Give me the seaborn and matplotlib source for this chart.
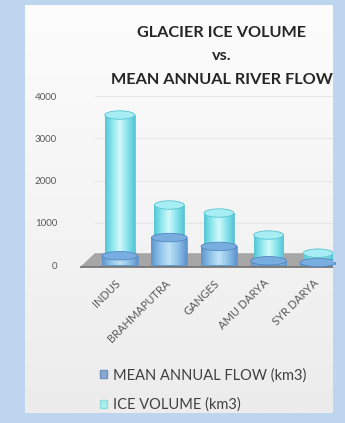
import numpy as np
import pandas as pd
import seaborn as sns
import matplotlib.pyplot as plt
from matplotlib.patches import Ellipse, Polygon, Patch
from matplotlib.colors import LinearSegmentedColormap
from matplotlib.transforms import ScaledTranslation

# Glacier ice volume and mean annual flow per river basin (km3)
rivers = ["INDUS", "BRAHMAPUTRA", "GANGES", "AMU DARYA", "SYR DARYA"]
ice_volume = [3550, 1420, 1230, 710, 280]
annual_flow = [220, 650, 440, 100, 60]
y_ticks = [0, 1000, 2000, 3000, 4000]
title_lines = ["GLACIER ICE VOLUME", "vs.", "MEAN ANNUAL RIVER FLOW"]
legend_labels = ["MEAN ANNUAL FLOW (km3)", "ICE VOLUME (km3)"]

df = pd.DataFrame({"river": rivers, "ice": ice_volume, "flow": annual_flow})

sns.set_theme(style="white")
plt.rcParams["font.family"] = ["Lato", "DejaVu Sans"]

W, H = 345, 423
fig = plt.figure(figsize=(W / 100, H / 100), dpi=100)
fig.patch.set_facecolor("#bdd5ee")

# light panel behind the chart
bg = fig.add_axes([25 / W, 1 - 413 / H, (333 - 25) / W, (413 - 5) / H])
grad = np.linspace(0, 1, 256)[:, None]
bg.imshow(grad, aspect="auto", extent=[0, 1, 0, 1],
          cmap=LinearSegmentedColormap.from_list("panel", ["#fdfdfd", "#ececec"]))
bg.set_axis_off()

ax_bottom_px, ax_top_px = 275.6, 96
ax = fig.add_axes([80 / W, 1 - ax_bottom_px / H, (333 - 80) / W, (ax_bottom_px - ax_top_px) / H])
ax.patch.set_alpha(0)

ice_cmap = LinearSegmentedColormap.from_list(
    "ice", ["#52c6d5", "#8fe7ee", "#d2f9fb", "#8ae4ec", "#55c5d6"])
flow_cmap = LinearSegmentedColormap.from_list(
    "flow", ["#5e93cc", "#8fc3ea", "#bfe3f6", "#8fc3ea", "#5e93cc"])

sns.barplot(data=df, x="river", y="ice", color="#8fe7ee", width=0.6,
            ax=ax, zorder=3, saturation=1)
n_ice = len(ax.patches)
sns.barplot(data=df, x="river", y="flow", color="#8fc3ea", width=0.72,
            ax=ax, zorder=5, saturation=1)
bars = list(ax.patches)

# floor of the chart
floor = Polygon([(-0.8, -50), (-0.5, 280), (4.3, 280), (4.3, -50)],
                closed=True, facecolor="#a6a6a6", edgecolor="none", zorder=1)
ax.add_patch(floor)
ax.plot([-0.8, 4.3], [-50, -50], color="#707070", lw=1.2, zorder=1.5)

# faint gridlines
for t in y_ticks[1:]:
    ax.plot([-0.5, 4.3], [t, t], color="#e6e6e6", lw=0.8, zorder=0)

# cylinder shading and caps
xg = np.linspace(0, 1, 128)[None, :]
for i, p in enumerate(bars):
    is_ice = i < n_ice
    x0, w, h = p.get_x(), p.get_width(), p.get_height()
    cmap = ice_cmap if is_ice else flow_cmap
    z = 3 if is_ice else 5
    p.set_edgecolor("#4cbccc" if is_ice else "#5a8cc4")
    p.set_linewidth(0.5)
    im = ax.imshow(xg, aspect="auto", extent=[x0, x0 + w, 0, h], cmap=cmap,
                   zorder=z + 0.1)
    im.set_clip_path(p)
    cap = Ellipse((x0 + w / 2, h), w, 200,
                  facecolor="#a6eef3" if is_ice else "#78aedf",
                  edgecolor="#55c3d2" if is_ice else "#5585bf",
                  linewidth=0.6, zorder=z + 0.2)
    ax.add_patch(cap)

ax.set_xlim(-0.8, 4.3)
ax.set_ylim(-250, 4000)
ax.set_yticks(y_ticks)
ax.set_yticklabels([str(t) for t in y_ticks], fontsize=7, color="#595959")
ax.tick_params(axis="y", length=0, pad=16.5)
ax.set_xticks(range(len(rivers)))
ax.set_xticklabels(rivers, rotation=45, ha="right", rotation_mode="anchor",
                   fontsize=8, color="#595959")
ax.tick_params(axis="x", length=0, pad=5)
shift = ScaledTranslation(-5 / 100, 5 / 100, fig.dpi_scale_trans)
for lbl in ax.get_xticklabels():
    lbl.set_transform(lbl.get_transform() + shift)
ax.set_xlabel("")
ax.set_ylabel("")
for s in ax.spines.values():
    s.set_visible(False)

# title
title_y = [33, 56, 80]
for line, yp in zip(title_lines, title_y):
    fig.text(222 / W, 1 - yp / H, line, ha="center", va="center",
             fontsize=11.7, fontweight="bold", color="#262626")

handles = [Patch(facecolor="#8aa9d2", edgecolor="#6f8fbf"),
           Patch(facecolor="#aaf0ea", edgecolor="#8fe0dc")]
fig.legend(handles, legend_labels, loc="upper left",
           bbox_to_anchor=(87 / W, 1 - 355 / H), frameon=False,
           fontsize=10.5, handlelength=0.5, handleheight=0.5, handletextpad=0.4,
           labelspacing=1.05, labelcolor="#404040")

fig.savefig("out.png", dpi=100, facecolor=fig.get_facecolor())
